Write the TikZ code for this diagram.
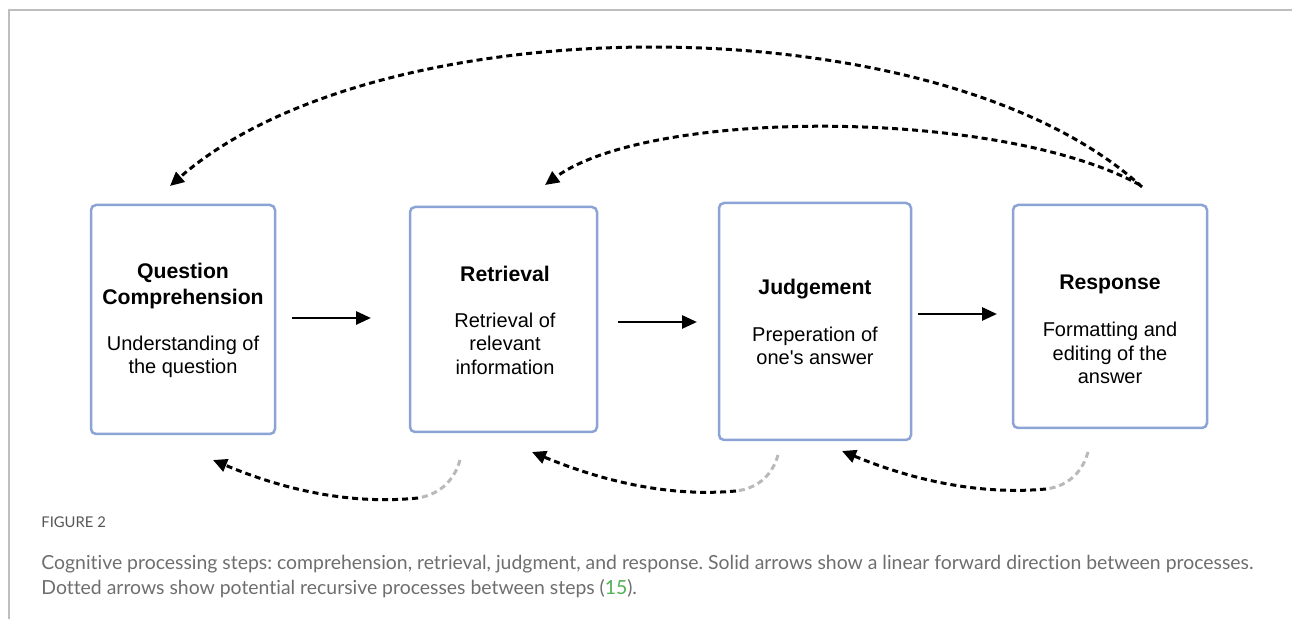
\documentclass[tikz,border=0pt]{standalone}
\usepackage{fontspec}
\setmainfont{Liberation Sans}
\newfontfamily\capfont[Ligatures=NoCommon]{Lato}
\usetikzlibrary{arrows.meta}
\definecolor{boxblue}{RGB}{140,163,214}
\definecolor{framegray}{RGB}{190,190,190}
\definecolor{captext}{RGB}{110,110,110}
\definecolor{figlabel}{RGB}{85,85,85}
\definecolor{citegreen}{RGB}{80,175,80}
\definecolor{fadegray}{RGB}{185,185,185}
\tikzset{
  stepbox/.style={draw=boxblue, line width=1.25pt, rounded corners=2.5pt, fill=white, inner sep=0pt},
  titletext/.style={font=\bfseries\fontsize{10.6}{13}\selectfont, align=center, inner sep=0pt},
  desctext/.style={font=\fontsize{10}{11.8}\selectfont, align=center, inner sep=0pt},
  fwdarrow/.style={line width=1.4pt, -{Triangle[length=7.5pt,width=6.5pt]}},
  backarrow/.style={line width=1.5pt, dash pattern=on 3pt off 2pt, -{Triangle[length=7pt,width=6.5pt]}},
  fadepart/.style={line width=1.5pt, dash pattern=on 3pt off 2pt, draw=fadegray},
  captiontext/.style={font=\capfont\fontsize{9.7}{11}\selectfont, text=captext, anchor=west, inner sep=0pt},
}
\begin{document}
\frenchspacing
\begin{tikzpicture}[x=0.5pt,y=-0.5pt]
\useasboundingbox (0,0) rectangle (1292,619);
% frame
\draw[framegray, line width=0.75pt] (9,619) -- (9,10) -- (1292,10);

% boxes
\node[stepbox, minimum width=92pt, minimum height=114.5pt] (b1) at (183,319.5) {};
\node[stepbox, minimum width=93.5pt, minimum height=112.5pt] (b2) at (503.5,319.5) {};
\node[stepbox, minimum width=96pt, minimum height=118.5pt] (b3) at (815,321.5) {};
\node[stepbox, minimum width=97pt, minimum height=111.5pt] (b4) at (1110,316.5) {};

% texts
\node[titletext] (t1) at (183,286) {Question\\Comprehension};
\node[desctext] (d1) at (183,357) {Understanding of\\the question};
\node[titletext] (t2) at (505,274) {Retrieval};
\node[desctext] (d2) at (505,343.5) {Retrieval of\\relevant\\information};
\node[titletext] (t3) at (815,289) {Judgement};
\node[desctext] (d3) at (815,346) {Preperation of\\one\textquotesingle s answer};
\node[titletext] (t4) at (1110,284) {Response};
\node[desctext] (d4) at (1110,353) {Formatting and\\editing of the\\answer};

% forward arrows
\coordinate (f1s) at (292,318); \coordinate (f1e) at (371,318);
\coordinate (f2s) at (618,322); \coordinate (f2e) at (697,322);
\coordinate (f3s) at (918,314); \coordinate (f3e) at (997,314);
\draw[fwdarrow] (f1s) -- (f1e);
\draw[fwdarrow] (f2s) -- (f2e);
\draw[fwdarrow] (f3s) -- (f3e);

% top recursive arrows
\coordinate (u1s) at (1142,187); \coordinate (u1e) at (170,186);
\coordinate (u2s) at (1140,185); \coordinate (u2e) at (545,185);
\draw[backarrow] (u1s) .. controls (940,2) and (380,2) .. (u1e);
\draw[backarrow] (u2s) .. controls (1000,108) and (650,108) .. (u2e);

% bottom recursive arrows
\coordinate (l1s) at (460,460); \coordinate (l1m) at (418,498); \coordinate (l1e) at (213,460);
\coordinate (l2s) at (778,455); \coordinate (l2m) at (736,491); \coordinate (l2e) at (532,452);
\coordinate (l3s) at (1088,452); \coordinate (l3m) at (1046,489); \coordinate (l3e) at (842,451);
\draw[fadepart] (l1s) .. controls (455,478) and (442,494) .. (l1m);
\draw[backarrow] (l1m) .. controls (340,506) and (270,484) .. (l1e);
\draw[fadepart] (l2s) .. controls (773,473) and (760,488) .. (l2m);
\draw[backarrow] (l2m) .. controls (660,498) and (590,476) .. (l2e);
\draw[fadepart] (l3s) .. controls (1083,470) and (1070,486) .. (l3m);
\draw[backarrow] (l3m) .. controls (970,496) and (900,475) .. (l3e);

% caption
\node[font=\capfont\fontsize{7.4}{8}\selectfont, text=figlabel, anchor=west, inner sep=0pt] (fig) at (41,522) {FIGURE 2};
\node[captiontext] (c1) at (41,564) {Cognitive processing steps: comprehension, retrieval, judgment, and response. Solid arrows show a linear forward direction between processes.};
\node[captiontext] (c2) at (41,589) {Dotted arrows show potential recursive processes between steps (\textcolor{citegreen}{15}).};
\end{tikzpicture}
\end{document}
